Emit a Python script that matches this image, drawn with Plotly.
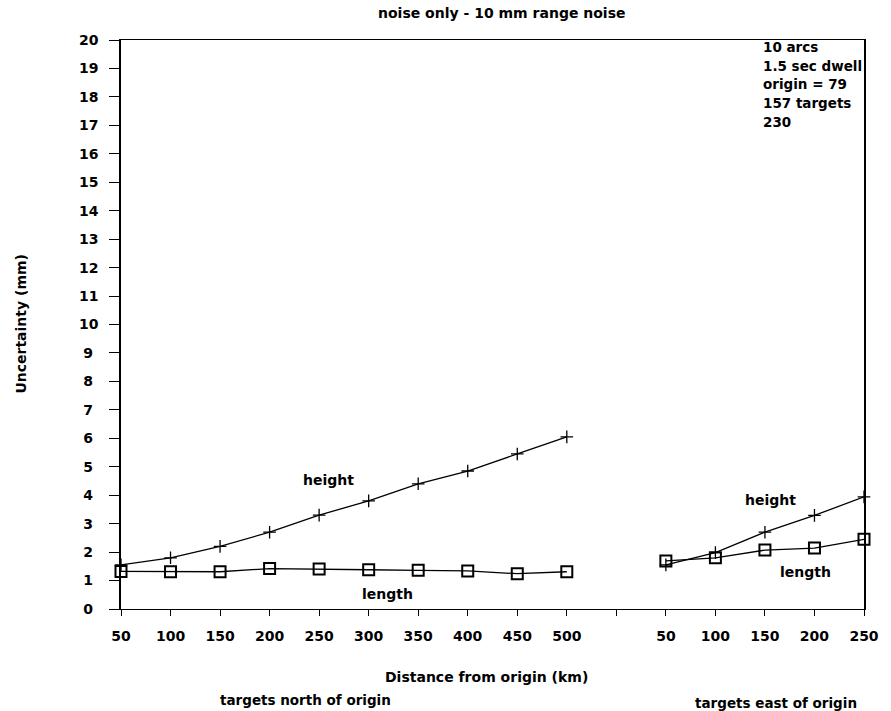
import plotly.graph_objects as go

# ---- data ----
north_dist = [50, 100, 150, 200, 250, 300, 350, 400, 450, 500]
north_height = [1.55, 1.8, 2.2, 2.7, 3.3, 3.8, 4.4, 4.85, 5.45, 6.05]
north_length = [1.32, 1.31, 1.31, 1.42, 1.41, 1.38, 1.36, 1.34, 1.24, 1.31]

east_dist = [50, 100, 150, 200, 250]
east_height = [1.55, 1.98, 2.7, 3.29, 3.94]
east_length = [1.69, 1.8, 2.07, 2.14, 2.45]

y_ticks = list(range(0, 21))
info_lines = ["10 arcs", "1.5 sec dwell", "origin = 79", "157 targets", "230"]

# categorical slot positions: north 0..9, blank slot 10, east 11..15
north_pos = list(range(len(north_dist)))
east_pos = [len(north_dist) + 1 + i for i in range(len(east_dist))]
tick_pos = north_pos + [len(north_dist)] + east_pos
tick_text = [str(d) for d in north_dist] + [""] + [str(d) for d in east_dist]
y_text = [str(v) + ("\u2008" if v < 10 else "") for v in y_ticks]

W, H = 891, 711
L, R, T, B = 121, 15, 40, 102
PW, PH = W - L - R, H - T - B

def px(x):
    return (x - L) / PW

def py(y):
    return (H - B - y) / PH

FONT = "DejaVu Sans, Verdana, sans-serif"
def bold(size):
    return dict(family=FONT, size=size, color="black", weight="bold")

fig = go.Figure()

line_style = dict(color="black", width=1.3)
for pos, vals in ((north_pos, north_height), (east_pos, east_height)):
    fig.add_trace(go.Scatter(
        x=pos, y=vals, mode="lines+markers", line=line_style,
        marker=dict(symbol="cross-thin", size=9, line=dict(color="black", width=1.3)),
        showlegend=False, cliponaxis=False))
for pos, vals in ((north_pos, north_length), (east_pos, east_length)):
    fig.add_trace(go.Scatter(
        x=pos, y=vals, mode="lines+markers", line=line_style,
        marker=dict(symbol="square-open", size=11, color="black",
                    line=dict(color="black", width=2)),
        showlegend=False, cliponaxis=False))

ann = []
def note(text, x, y, size=14, xanchor="center", angle=0):
    ann.append(dict(text=text, x=px(x), y=py(y), xref="paper", yref="paper",
                    xanchor=xanchor, yanchor="middle", textangle=angle,
                    showarrow=False, font=bold(size)))

note("noise only - 10 mm range noise", 508, 13, 14)
note("Uncertainty (mm)", 19, 324, 14, angle=-90)
for i, t in enumerate(info_lines):
    note(t, 771, 47 + 18.7 * i, 13.5, xanchor="left")
for t, x, y in [("height", 332, 480), ("length", 392, 594), ("height", 781, 500), ("length", 817, 572)]:
    note(t, x, y, 14)
note("Distance from origin (km)", 492, 677, 14)
note("targets north of origin", 308, 700, 13.5)
note("targets east of origin", 787, 703, 13.5)

fig.update_layout(
    width=W, height=H,
    margin=dict(l=L, r=R, t=T, b=B),
    paper_bgcolor="white", plot_bgcolor="white",
    annotations=ann,
    xaxis=dict(range=[0, tick_pos[-1]], tickmode="array", tickvals=tick_pos, ticktext=tick_text,
               ticks="outside", ticklen=6, tickwidth=1.3, tickcolor="black",
               showline=True, linecolor="black", linewidth=1.4, mirror=True,
               showgrid=False, zeroline=False, tickfont=bold(14), ticklabelstandoff=8),
    yaxis=dict(range=[0, 20], tickmode="array", tickvals=y_ticks, ticktext=y_text,
               ticks="outside", ticklen=10, tickwidth=1.3, tickcolor="black",
               showline=True, linecolor="black", linewidth=1.6, mirror=True,
               showgrid=False, zeroline=False, tickfont=bold(14), ticklabelstandoff=8),
)

fig.write_html("out.html", config={"displayModeBar": False},
               post_script="document.body.style.margin='0px';")
